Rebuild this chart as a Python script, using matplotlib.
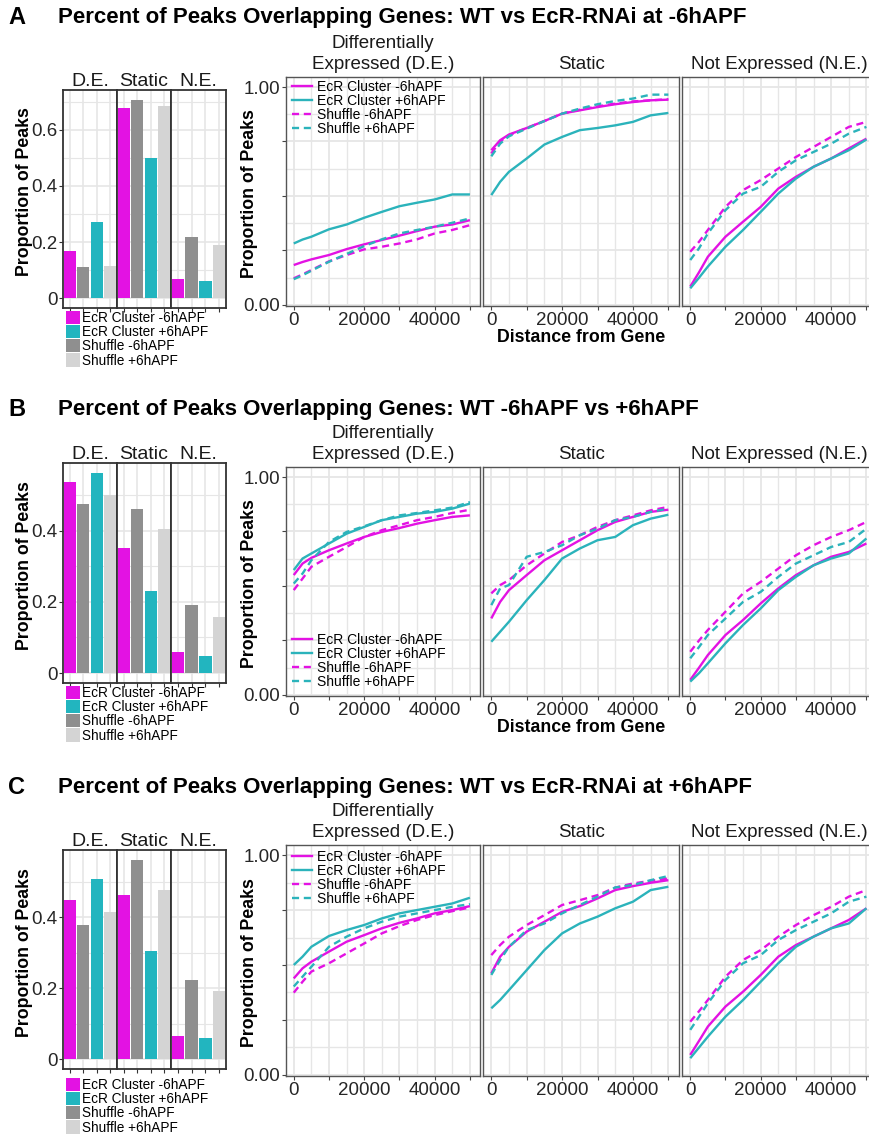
import numpy as np
import matplotlib.pyplot as plt
from matplotlib.lines import Line2D
from matplotlib.patches import Patch
from matplotlib.ticker import MultipleLocator, FuncFormatter

plt.rcParams['font.family'] = ['Liberation Sans', 'DejaVu Sans']

W, H = 870, 1141

# ---------------- data ----------------
groups = ['EcR Cluster -6hAPF', 'EcR Cluster +6hAPF', 'Shuffle -6hAPF', 'Shuffle +6hAPF']
bar_colors = ['#E312E3', '#22B5BF', '#8F8F8F', '#D4D4D4']
line_colors = ['#E312E3', '#2BB3BB', '#E312E3', '#2BB3BB']
line_styles = ['-', '-', '--', '--']
bar_order = [0, 2, 1, 3]          # EcR -6, Shuffle -6, EcR +6, Shuffle +6
bar_facets = ['D.E.', 'Static', 'N.E.']
line_facets = ['Differentially\nExpressed (D.E.)', 'Static', 'Not Expressed (N.E.)']

titles = ['Percent of Peaks Overlapping Genes: WT vs EcR-RNAi at -6hAPF',
          'Percent of Peaks Overlapping Genes: WT -6hAPF vs +6hAPF',
          'Percent of Peaks Overlapping Genes: WT vs EcR-RNAi at +6hAPF']
letters = ['A', 'B', 'C']

# proportion of peaks per facet (D.E., Static, N.E.), groups in legend order
bars_A = [[0.169, 0.273, 0.111, 0.113],
          [0.677, 0.498, 0.707, 0.685],
          [0.068, 0.060, 0.219, 0.188]]
bars_B = [[0.536, 0.562, 0.476, 0.501],
          [0.352, 0.231, 0.460, 0.404],
          [0.059, 0.049, 0.191, 0.158]]
bars_C = [[0.448, 0.509, 0.378, 0.415],
          [0.464, 0.306, 0.562, 0.477],
          [0.066, 0.058, 0.224, 0.191]]

dist = [0, 2500, 5000, 10000, 15000, 20000, 25000, 30000, 35000, 40000, 45000, 50000]

# cumulative proportion vs distance, [facet][group]
lines_A = [
    [[0.183, 0.197, 0.209, 0.229, 0.256, 0.278, 0.298, 0.318, 0.339, 0.359, 0.369, 0.389],
     [0.282, 0.300, 0.313, 0.347, 0.369, 0.400, 0.427, 0.453, 0.469, 0.484, 0.507, 0.507],
     [0.122, 0.140, 0.160, 0.200, 0.229, 0.255, 0.267, 0.282, 0.301, 0.328, 0.344, 0.366],
     [0.118, 0.136, 0.157, 0.198, 0.234, 0.270, 0.301, 0.328, 0.344, 0.359, 0.377, 0.397]],
    [[0.710, 0.756, 0.782, 0.812, 0.844, 0.878, 0.893, 0.908, 0.921, 0.931, 0.939, 0.942],
     [0.504, 0.565, 0.611, 0.672, 0.736, 0.771, 0.802, 0.812, 0.824, 0.840, 0.870, 0.881],
     [0.695, 0.751, 0.779, 0.812, 0.844, 0.878, 0.896, 0.911, 0.924, 0.934, 0.939, 0.944],
     [0.682, 0.740, 0.774, 0.809, 0.844, 0.878, 0.901, 0.921, 0.936, 0.947, 0.965, 0.965]],
    [[0.084, 0.150, 0.221, 0.313, 0.382, 0.450, 0.534, 0.588, 0.634, 0.672, 0.718, 0.763],
     [0.076, 0.125, 0.176, 0.267, 0.344, 0.427, 0.511, 0.580, 0.634, 0.672, 0.710, 0.759],
     [0.244, 0.290, 0.344, 0.450, 0.527, 0.573, 0.626, 0.679, 0.725, 0.771, 0.817, 0.840],
     [0.206, 0.260, 0.328, 0.435, 0.511, 0.542, 0.611, 0.664, 0.702, 0.740, 0.786, 0.817]],
]
lines_B = [
    [[0.550, 0.603, 0.629, 0.664, 0.695, 0.725, 0.748, 0.766, 0.786, 0.802, 0.817, 0.824],
     [0.573, 0.626, 0.649, 0.695, 0.740, 0.771, 0.802, 0.817, 0.832, 0.840, 0.855, 0.878],
     [0.481, 0.534, 0.588, 0.634, 0.679, 0.725, 0.756, 0.779, 0.802, 0.817, 0.835, 0.850],
     [0.511, 0.557, 0.618, 0.702, 0.748, 0.774, 0.802, 0.824, 0.835, 0.847, 0.860, 0.885]],
    [[0.351, 0.427, 0.481, 0.550, 0.618, 0.664, 0.710, 0.756, 0.794, 0.817, 0.840, 0.850],
     [0.244, 0.290, 0.336, 0.435, 0.527, 0.626, 0.672, 0.710, 0.725, 0.779, 0.809, 0.827],
     [0.466, 0.504, 0.527, 0.595, 0.649, 0.702, 0.733, 0.771, 0.802, 0.824, 0.847, 0.863],
     [0.412, 0.489, 0.504, 0.634, 0.656, 0.687, 0.733, 0.763, 0.802, 0.817, 0.840, 0.855]],
    [[0.069, 0.125, 0.183, 0.275, 0.344, 0.420, 0.489, 0.550, 0.595, 0.634, 0.656, 0.695],
     [0.061, 0.100, 0.145, 0.237, 0.321, 0.397, 0.481, 0.542, 0.595, 0.626, 0.649, 0.718],
     [0.198, 0.250, 0.298, 0.382, 0.466, 0.519, 0.580, 0.641, 0.687, 0.725, 0.756, 0.794],
     [0.168, 0.220, 0.275, 0.351, 0.427, 0.473, 0.542, 0.603, 0.641, 0.679, 0.702, 0.763]],
]
lines_C = [
    [[0.439, 0.485, 0.515, 0.561, 0.606, 0.636, 0.667, 0.692, 0.712, 0.735, 0.750, 0.768],
     [0.500, 0.538, 0.583, 0.632, 0.659, 0.682, 0.712, 0.735, 0.750, 0.765, 0.780, 0.806],
     [0.374, 0.424, 0.470, 0.508, 0.553, 0.598, 0.644, 0.677, 0.705, 0.727, 0.745, 0.762],
     [0.402, 0.447, 0.492, 0.583, 0.629, 0.667, 0.697, 0.720, 0.735, 0.750, 0.765, 0.777]],
    [[0.462, 0.538, 0.583, 0.652, 0.697, 0.742, 0.768, 0.803, 0.841, 0.859, 0.874, 0.886],
     [0.303, 0.341, 0.386, 0.477, 0.568, 0.644, 0.689, 0.720, 0.758, 0.788, 0.841, 0.856],
     [0.545, 0.591, 0.629, 0.682, 0.727, 0.773, 0.795, 0.818, 0.852, 0.871, 0.883, 0.894],
     [0.455, 0.523, 0.583, 0.659, 0.689, 0.735, 0.773, 0.811, 0.853, 0.864, 0.886, 0.905]],
    [[0.091, 0.155, 0.220, 0.311, 0.379, 0.455, 0.538, 0.591, 0.629, 0.667, 0.705, 0.758],
     [0.076, 0.125, 0.174, 0.265, 0.341, 0.424, 0.508, 0.583, 0.629, 0.667, 0.689, 0.758],
     [0.242, 0.290, 0.341, 0.447, 0.523, 0.568, 0.629, 0.682, 0.727, 0.765, 0.811, 0.841],
     [0.205, 0.265, 0.326, 0.432, 0.508, 0.545, 0.614, 0.659, 0.697, 0.735, 0.788, 0.811]],
]

# ---------------- layout (pixels) ----------------
# title y, bar panel top/bottom, bar legend top, line panel top/bottom, line legend top, x label
sections = [
    dict(ty=17, bar=(90, 308), blt=311, line=(77, 306), llt=80, xlab=True, bars=bars_A, lines=lines_A),
    dict(ty=409, bar=(463, 683), blt=686, line=(467, 696), llt=633, xlab=True, bars=bars_B, lines=lines_B),
    dict(ty=788, bar=(850, 1069), blt=1078, line=(845, 1076), llt=850, xlab=False, bars=bars_C, lines=lines_C),
]
bar_x = [(63, 117), (117, 171), (171, 226)]
line_x = [(286, 480.5), (483.5, 679), (682.5, 877)]

GRID = '#E6E6E6'
TXT = '#262626'
DASH = (3, 2)

fig = plt.figure(figsize=(W / 100, H / 100), dpi=100)


def px_axes(x0, y0, x1, y1):
    return fig.add_axes([x0 / W, 1 - y1 / H, (x1 - x0) / W, (y1 - y0) / H])


for k, sec in enumerate(sections):
    fig.text(17 / W, 1 - sec['ty'] / H, letters[k], fontsize=17, fontweight='bold',
             ha='center', va='center')
    fig.text(58 / W, 1 - sec['ty'] / H, titles[k], fontsize=16, fontweight='bold',
             ha='left', va='center')

    # ---- bar facets ----
    top, bot = sec['bar']
    vmax = max(max(v) for v in sec['bars'])
    for j, (x0, x1) in enumerate(bar_x):
        ax = px_axes(x0, top, x1, bot)
        vals = sec['bars'][j]
        for pos, g in enumerate(bar_order):
            ax.bar(pos + 1, vals[g], width=0.92, color=bar_colors[g], zorder=2)
        ax.set_xlim(0.5, 4.5)
        ax.set_ylim(-0.05 * vmax, 1.05 * vmax)
        ax.set_xticks([1, 2, 3, 4])
        ax.set_xticklabels([])
        ax.yaxis.set_major_locator(MultipleLocator(0.2))
        ax.yaxis.set_minor_locator(MultipleLocator(0.1))
        ax.grid(True, which='major', color=GRID, lw=1.2, zorder=0)
        ax.grid(True, which='minor', axis='y', color=GRID, lw=0.8, zorder=0)
        ax.set_axisbelow(True)
        ax.tick_params(axis='x', length=3, color='#333333')
        ax.tick_params(axis='y', which='minor', length=0)
        if j == 0:
            ax.yaxis.set_major_formatter(FuncFormatter(lambda v, p: '0' if abs(v) < 1e-9 else f'{v:.1f}'))
            ax.tick_params(axis='y', labelsize=13.5, labelcolor=TXT, length=3, color='#333333', pad=1)
        else:
            ax.tick_params(axis='y', length=0, labelleft=False)
        for s in ax.spines.values():
            s.set_color('#333333')
            s.set_linewidth(1.3)
        ax.text(0.5, 1.0, bar_facets[j], transform=ax.transAxes, ha='center', va='bottom',
                fontsize=14, color='#1a1a1a')
    fig.text(25 / W, 1 - ((top + bot) / 2 - 7) / H, 'Proportion of Peaks', rotation=90,
             fontsize=12.8, fontweight='bold', ha='center', va='center')
    handles = [Patch(facecolor=bar_colors[g], edgecolor='none') for g in range(4)]
    fig.legend(handles, groups, loc='upper left', bbox_to_anchor=(66 / W, 1 - sec['blt'] / H),
               frameon=False, fontsize=9.8, handlelength=1.05, handleheight=1.1,
               handletextpad=0.15, labelspacing=0.0, borderpad=0, borderaxespad=0)

    # ---- cumulative line facets ----
    top, bot = sec['line']
    for j, (x0, x1) in enumerate(line_x):
        ax = px_axes(x0, top, x1, bot)
        for g in range(4):
            ax.plot(dist, sec['lines'][j][g], color=line_colors[g], ls=line_styles[g],
                    lw=1.7, dashes=DASH if line_styles[g] == '--' else (None, None),
                    solid_capstyle='butt')
        ax.set_xlim(-2200, 53000)
        ax.set_ylim(-0.005, 1.046)
        ax.xaxis.set_major_locator(MultipleLocator(10000))
        ax.xaxis.set_minor_locator(MultipleLocator(5000))
        ax.xaxis.set_major_formatter(FuncFormatter(lambda v, p: f'{int(v)}' if int(v) % 20000 == 0 else ''))
        ax.yaxis.set_major_locator(MultipleLocator(0.25))
        ax.yaxis.set_minor_locator(MultipleLocator(0.125))
        ax.yaxis.set_major_formatter(FuncFormatter(lambda v, p: f'{v:.2f}' if abs(v) < 1e-9 or abs(v - 1) < 1e-9 else ''))
        ax.grid(True, which='major', color=GRID, lw=1.3, zorder=0)
        ax.grid(True, which='minor', color=GRID, lw=1.0, zorder=0)
        ax.set_axisbelow(True)
        ax.tick_params(which='minor', length=0)
        ax.tick_params(axis='x', labelsize=13.5, labelcolor=TXT, length=3, color='#444444', pad=1)
        if j == 0:
            ax.tick_params(axis='y', labelsize=13.5, labelcolor=TXT, length=3, color='#444444', pad=1)
        else:
            ax.tick_params(axis='y', length=0, labelleft=False)
        for s in ax.spines.values():
            s.set_color('#555555')
            s.set_linewidth(1.0)
        ax.text(0.5, 1.0 + 4 / (bot - top), line_facets[j], transform=ax.transAxes,
                ha='center', va='bottom', fontsize=13.5, color='#1a1a1a', linespacing=1.3)
        if j == 1 and sec['xlab']:
            ax.set_xlabel('Distance from Gene', fontsize=12.8, fontweight='bold', labelpad=0)
    fig.text(250 / W, 1 - ((top + bot) / 2 + 2) / H, 'Proportion of Peaks', rotation=90,
             fontsize=12.8, fontweight='bold', ha='center', va='center')
    lh = [Line2D([0], [0], color=line_colors[g], lw=1.7, ls=line_styles[g],
                 dashes=DASH if line_styles[g] == '--' else (None, None)) for g in range(4)]
    fig.legend(lh, groups, loc='upper left', bbox_to_anchor=(292 / W, 1 - sec['llt'] / H),
               frameon=False, fontsize=10, handlelength=1.45, handletextpad=0.35,
               labelspacing=0.0, borderpad=0, borderaxespad=0)

fig.savefig('out.png', dpi=100)
